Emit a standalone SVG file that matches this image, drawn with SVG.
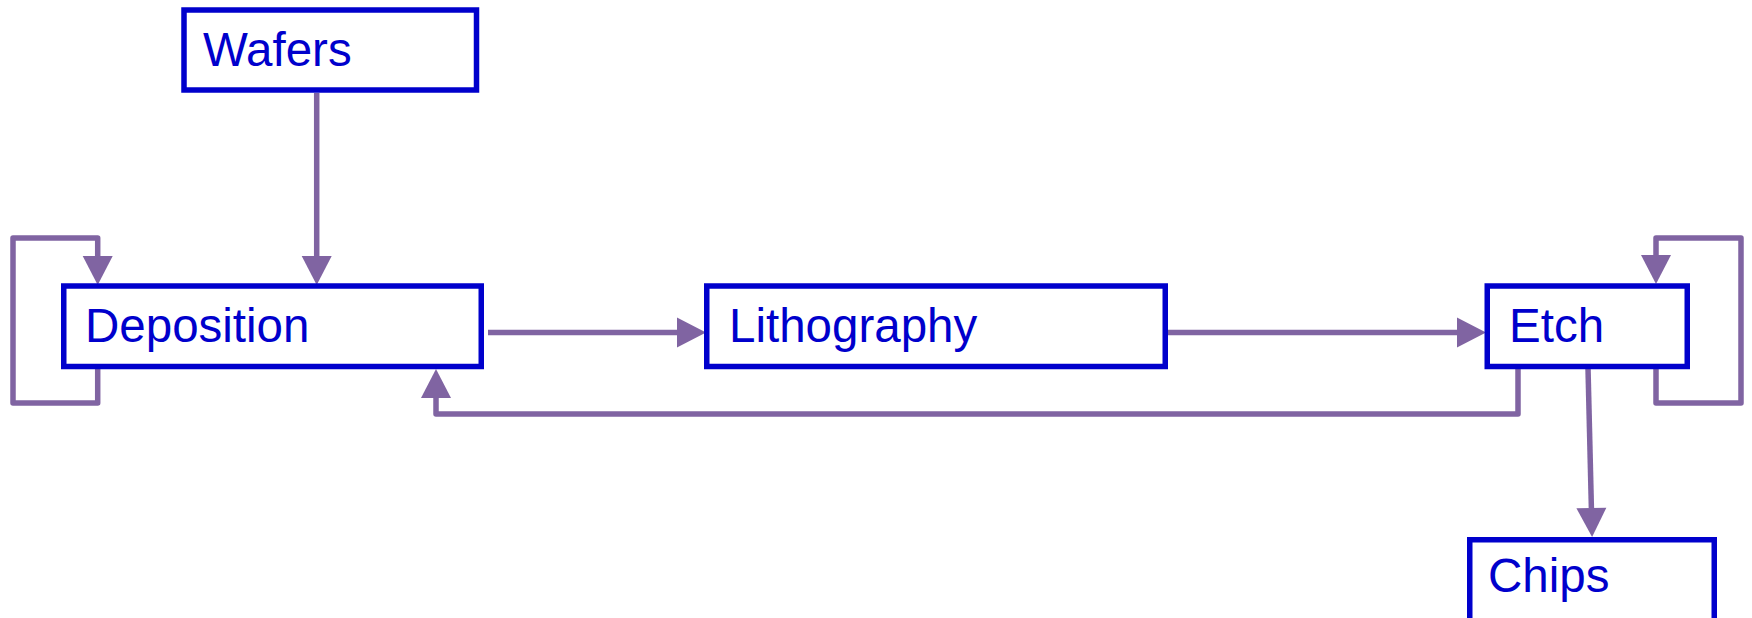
<svg xmlns="http://www.w3.org/2000/svg" width="1752" height="618" viewBox="0 0 1752 618">
  <style>
    .box { fill: #ffffff; stroke: #0000cc; stroke-width: 5.5; }
    .label { font-family: "Liberation Sans", Arial, sans-serif; font-size: 47.5px; fill: #0000cc; }
    .link { fill: none; stroke: #8064a2; stroke-width: 5.5; stroke-linejoin: round; marker-end: url(#arrow); }
  </style>
  <defs>
    <marker id="arrow" markerUnits="userSpaceOnUse" markerWidth="32" markerHeight="32" viewBox="0 -16 30 32" refX="0" refY="0" orient="auto" overflow="visible">
      <path d="M0,-15 L29,0 L0,15 Z" fill="#8064a2"/>
    </marker>
  </defs>
  <rect width="1752" height="618" fill="#ffffff"/>

  <g id="connectors">
    <!-- Wafers to Deposition -->
    <path class="link" d="M316.7,93 L316.7,256"/>
    <!-- Deposition self-loop -->
    <path class="link" d="M97.7,369 L97.7,403 L13,403 L13,238 L97.7,238 L97.7,256"/>
    <!-- Deposition to Lithography -->
    <path class="link" d="M488,332.5 L677,332.5"/>
    <!-- Lithography to Etch -->
    <path class="link" d="M1165,332.5 L1457,332.5"/>
    <!-- Etch back to Deposition -->
    <path class="link" d="M1518,368 L1518,414 L436,414 L436,398"/>
    <!-- Etch self-loop -->
    <path class="link" d="M1656,368 L1656,403 L1741,403 L1741,238 L1656,238 L1656,255"/>
    <!-- Etch to Chips -->
    <path class="link" d="M1588,368 L1591.4,508"/>
  </g>

  <g id="wafers">
    <rect class="box" x="184" y="10" width="292.5" height="80"/>
    <text class="label" x="203" y="66">Wafers</text>
  </g>
  <g id="deposition">
    <rect class="box" x="63.75" y="286" width="417.5" height="80.5"/>
    <text class="label" x="85" y="342">Deposition</text>
  </g>
  <g id="lithography">
    <rect class="box" x="706.75" y="286" width="458.5" height="80.5"/>
    <text class="label" x="729" y="342">Lithography</text>
  </g>
  <g id="etch">
    <rect class="box" x="1487.25" y="286" width="200" height="80.5"/>
    <text class="label" x="1509" y="342">Etch</text>
  </g>
  <g id="chips">
    <rect class="box" x="1469.75" y="539.75" width="244.5" height="100"/>
    <text class="label" x="1488" y="592">Chips</text>
  </g>
</svg>
